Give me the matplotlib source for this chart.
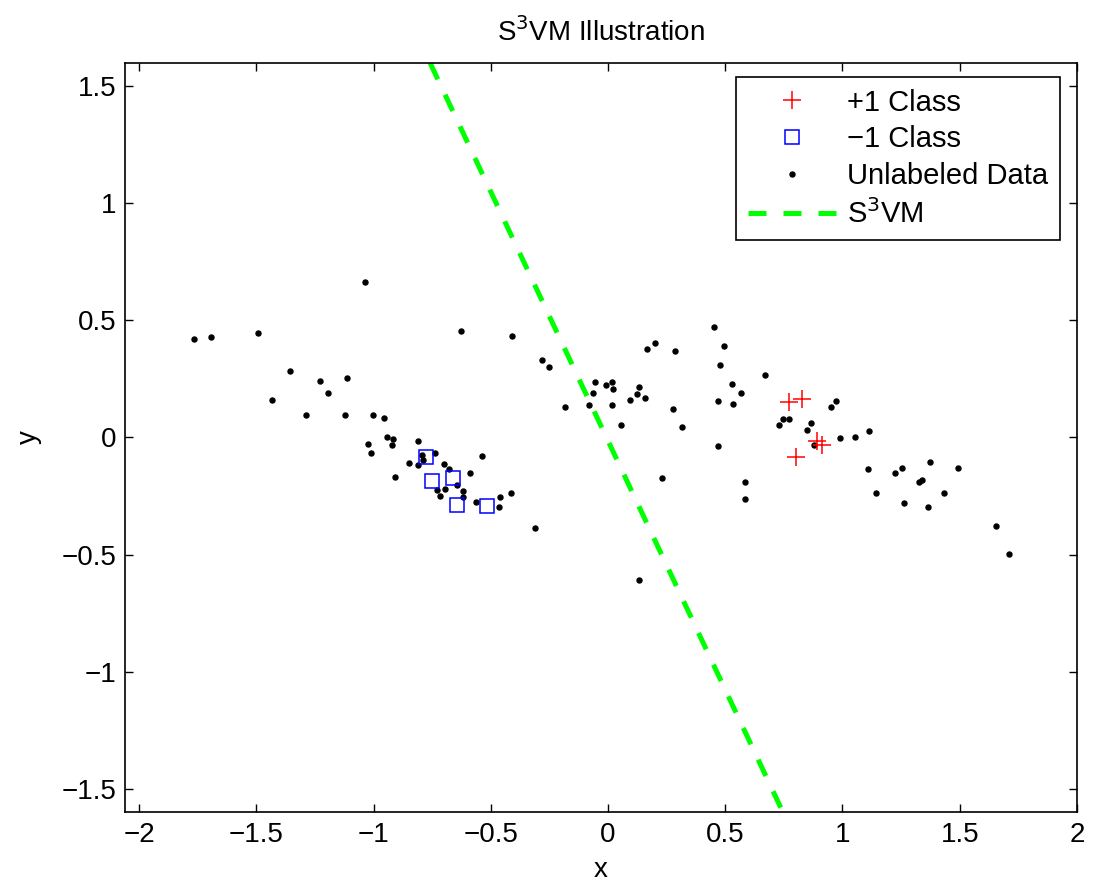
import numpy as np
import matplotlib
matplotlib.use("Agg")
import matplotlib.pyplot as plt

plt.rcParams['font.family'] = ['Liberation Sans', 'DejaVu Sans']

# Unlabeled data
unl_x = [-1.036, -1.764, -1.694, -1.494, -1.357, -1.227, -1.113, -1.195, -1.433, -1.289,
         -1.120, -1.001, -1.022, -1.012, -0.955, -0.944, -0.918, -0.922, -0.810, -0.793,
         -0.788, -0.736, -0.850, -0.810, -0.699, -0.678, -0.537, -0.588, -0.910, -0.644,
         -0.694, -0.728, -0.718, -0.618, -0.620, -0.563, -0.461, -0.415, -0.463, -0.310,
         -0.627, -0.408, -0.281, -0.252, 0.165, 0.199, 0.284, -0.054, -0.009, 0.018,
         0.023, -0.065, 0.131, 0.124, 0.092, 0.159, -0.182, -0.081, 0.016, 0.276,
         0.316, 0.057, 0.230, 0.132, 0.452, 0.495, 0.479, 0.671, 0.529, 0.569,
         0.470, 0.534, 0.468, 0.584, 0.583, 0.748, 0.773, 0.731, 0.866, 0.847,
         0.877, 0.972, 0.952, 0.988, 1.053, 1.114, 1.110, 1.143, 1.224, 1.252,
         1.372, 1.491, 1.328, 1.340, 1.432, 1.264, 1.363, 1.653, 1.709]
unl_y = [0.665, 0.420, 0.430, 0.446, 0.285, 0.241, 0.253, 0.188, 0.159, 0.098,
         0.098, 0.095, -0.029, -0.068, 0.083, 0.004, -0.006, -0.034, -0.014, -0.073,
         -0.095, -0.066, -0.108, -0.117, -0.113, -0.135, -0.080, -0.152, -0.167, -0.205,
         -0.219, -0.226, -0.252, -0.228, -0.255, -0.274, -0.256, -0.235, -0.298, -0.385,
         0.457, 0.432, 0.333, 0.303, 0.376, 0.402, 0.368, 0.235, 0.226, 0.236,
         0.209, 0.191, 0.215, 0.185, 0.159, 0.170, 0.131, 0.140, 0.137, 0.121,
         0.046, 0.053, -0.174, -0.610, 0.472, 0.392, 0.311, 0.268, 0.228, 0.188,
         0.157, 0.145, -0.037, -0.189, -0.262, 0.077, 0.081, 0.053, 0.064, 0.031,
         -0.030, 0.158, 0.131, -0.001, 0.001, 0.027, -0.135, -0.239, -0.152, -0.130,
         -0.103, -0.131, -0.191, -0.182, -0.239, -0.279, -0.298, -0.376, -0.496]

# +1 class
pos_x = [0.772, 0.829, 0.893, 0.914, 0.800]
pos_y = [0.152, 0.164, -0.013, -0.033, -0.083]

# -1 class
neg_x = [-0.776, -0.752, -0.662, -0.645, -0.515]
neg_y = [-0.084, -0.187, -0.174, -0.289, -0.292]

# S3VM decision boundary: w . [x, y] + b = 0
w = [1.0, 0.47]
b = 0.0065

xticks = [-2, -1.5, -1, -0.5, 0, 0.5, 1, 1.5, 2]
yticks = [-1.5, -1, -0.5, 0, 0.5, 1, 1.5]
xticklabels = ['\u22122', '\u22121.5', '\u22121', '\u22120.5', '0', '0.5', '1', '1.5', '2']
yticklabels = ['\u22121.5', '\u22121', '\u22120.5', '0', '0.5', '1', '1.5']

FS = 20

fig = plt.figure(figsize=(11.03, 8.85), dpi=100)
ax = fig.add_axes([0.1133, 0.0825, 0.8631, 0.8463])

ax.plot(pos_x, pos_y, '+', color='red', ms=13, mew=1.1, ls='none', label='+1 Class', zorder=4)
ax.plot(neg_x, neg_y, 's', mfc='none', mec='blue', ms=10, mew=1.1, ls='none', label='\u22121 Class', zorder=4)
ax.plot(unl_x, unl_y, 'o', color='black', ms=3.6, ls='none', label='Unlabeled Data', zorder=3)

ylo, yhi = -1.6, 1.6
yy = np.array([yhi, ylo])
xx = -(w[1] * yy + b) / w[0]
ax.plot(xx, yy, color='#00ff00', lw=3.6, linestyle=(0, (3.6, 3.4)), label='S$^3$VM', zorder=2)

ax.set_xlim(-2.06, 2)
ax.set_ylim(ylo, yhi)
ax.set_xticks(xticks)
ax.set_yticks(yticks)
ax.set_xticklabels(xticklabels)
ax.set_yticklabels(yticklabels)
ax.tick_params(direction='in', top=True, right=True, labelsize=FS, length=6, width=1)
ax.tick_params(axis='x', pad=7)
ax.tick_params(axis='y', pad=6)
for s in ax.spines.values():
    s.set_linewidth(1.2)

ax.set_title('S$^3$VM Illustration', fontsize=FS, pad=16)
ax.set_xlabel('x', fontsize=FS, labelpad=7)
ax.set_ylabel('y', fontsize=FS, labelpad=14)

leg = ax.legend(loc='upper right', bbox_to_anchor=(1060 / 1103, 1 - 77 / 885),
                bbox_transform=fig.transFigure, borderaxespad=0,
                fontsize=21, fancybox=False, edgecolor='black',
                framealpha=1, labelspacing=0.3, handlelength=3.0,
                handletextpad=0.4, borderpad=0.4, numpoints=1)
leg.get_frame().set_linewidth(1.2)

fig.savefig('out.png', dpi=100)
